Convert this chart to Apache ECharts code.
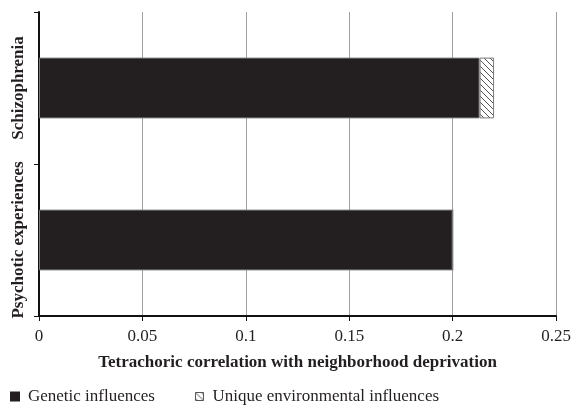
<!DOCTYPE html>
<html>
<head>
<meta charset="utf-8">
<script src="https://cdn.jsdelivr.net/npm/echarts@6/dist/echarts.min.js"></script>
<style>
  html, body { margin: 0; padding: 0; background: #fff; }
  #chart { width: 574px; height: 408px; }
</style>
</head>
<body>
<div id="chart"></div>
<script>
// categories, bottom to top
var categories = ['Psychotic experiences', 'Schizophrenia']
// stacked parts of the correlation
var genetic = [0.2, 0.213]
var environmental = [0, 0.007]
var xTicks = [0, 0.05, 0.1, 0.15, 0.2, 0.25]

// diagonal hatch for the environmental part
function hatch() {
  var c = document.createElement('canvas')
  c.width = 6
  c.height = 6
  var ctx = c.getContext('2d')
  ctx.fillStyle = '#fff'
  ctx.fillRect(0, 0, 6, 6)
  ctx.strokeStyle = '#555'
  ctx.lineWidth = 1
  ctx.beginPath()
  ctx.moveTo(0, 0); ctx.lineTo(6, 6)
  ctx.moveTo(-3, 3); ctx.lineTo(3, 9)
  ctx.moveTo(3, -3); ctx.lineTo(9, 3)
  ctx.stroke()
  return c
}
var hatchFill = { image: hatch(), repeat: 'repeat' }

var myChart = echarts.init(document.getElementById('chart'))
var font = '"Liberation Serif", "DejaVu Serif", serif'
var option = {
  animation: false,
  backgroundColor: '#fff',
  textStyle: { fontFamily: font },
  grid: { left: 39, right: 15, top: 12, bottom: 92 },
  legend: {
    left: 10,
    top: 388,
    itemWidth: 8,
    itemHeight: 8,
    itemGap: 40,
    padding: 0,
    textStyle: { fontFamily: font, fontSize: 17, color: '#231f20', padding: [0, 0, 0, 4] },
    data: [
      { name: 'Genetic influences', icon: 'rect', itemStyle: { color: '#231f20', borderColor: '#231f20' } },
      { name: 'Unique environmental influences', icon: 'rect', itemStyle: { color: hatchFill, borderColor: '#555', borderWidth: 1 } }
    ]
  },
  xAxis: {
    type: 'value',
    min: 0,
    max: 0.25,
    interval: 0.05,
    name: 'Tetrachoric correlation with neighborhood deprivation',
    nameLocation: 'middle',
    nameGap: 38,
    nameTextStyle: { fontFamily: font, fontSize: 17, fontWeight: 'bold', color: '#231f20' },
    axisLine: { show: true, lineStyle: { color: '#111', width: 2 } },
    axisTick: { show: true, length: 5, lineStyle: { color: '#111' } },
    axisLabel: {
      fontFamily: font, fontSize: 17, color: '#231f20', margin: 12,
      formatter: function (v) {
        var t = xTicks.find(function (x) { return Math.abs(x - v) < 1e-9 })
        return t === undefined ? '' : String(t)
      }
    },
    splitLine: { show: true, lineStyle: { color: '#a0a0a0', width: 1 } }
  },
  yAxis: {
    type: 'category',
    data: categories,
    axisLine: { show: true, lineStyle: { color: '#111', width: 2 } },
    axisTick: { show: true, length: 5, lineStyle: { color: '#111' } },
    axisLabel: {
      rotate: 90, interval: 0, hideOverlap: false,
      fontFamily: font, fontSize: 17, fontWeight: 'bold', color: '#231f20', margin: 12
    }
  },
  series: [
    {
      name: 'Genetic influences',
      type: 'bar',
      stack: 'r',
      barWidth: '40%',
      data: genetic,
      itemStyle: { color: '#231f20', borderColor: '#7a7a7a', borderWidth: 1 }
    },
    {
      name: 'Unique environmental influences',
      type: 'bar',
      stack: 'r',
      barWidth: '40%',
      data: environmental,
      itemStyle: { color: hatchFill, borderColor: '#7a7a7a', borderWidth: 1 }
    }
  ]
}
myChart.setOption(option)
</script>
</body>
</html>
